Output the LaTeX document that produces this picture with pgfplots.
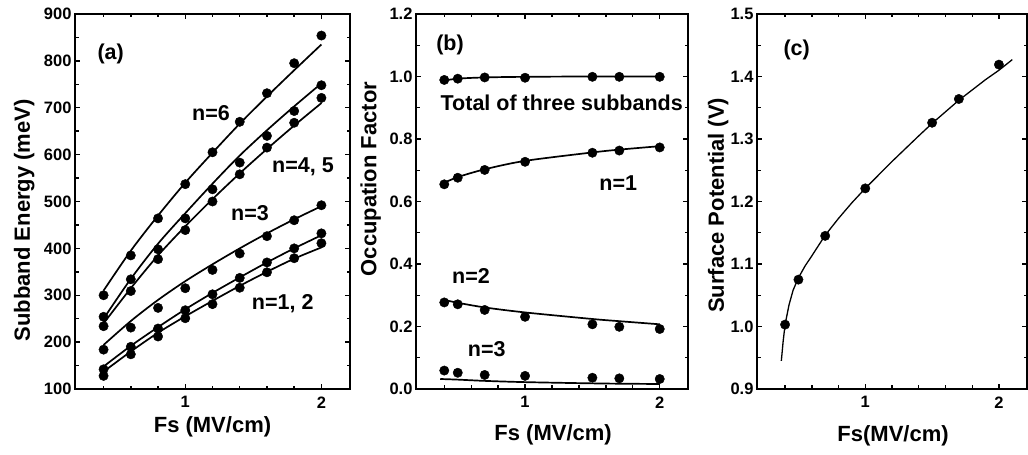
\documentclass[border=0pt]{standalone}
\usepackage{fontspec}
\setmainfont{Liberation Sans}
\usepackage{pgfplots}
\pgfplotsset{compat=1.18}

\pgfplotsset{
  panel/.style={
    scale only axis, anchor=south west,
    width=#1, height=375pt,
    xmin=0.19, xmax=2.21,
    xtick={1,2},
    minor xtick={0.4,0.6,0.8,1.2,1.4,1.6,1.8},
    minor y tick num=1,
    axis line style={line width=2.1pt},
    tick style={black, line width=1.4pt},
    major tick length=5pt, minor tick length=3.5pt,
    /pgf/number format/assume math mode=true,
    tick label style={font=\fontsize{16.5}{19}\selectfont\bfseries},
    xticklabel style={yshift=-4pt},
    label style={font=\fontsize{22}{25}\selectfont\bfseries},
    clip=false,
  },
  dots/.style={only marks, mark=*, mark size=4.7pt, black},
  fit/.style={no marks, smooth, black, line width=1.7pt},
}
\newcommand{\annot}{\fontsize{21.5}{24}\selectfont\bfseries}

\begin{document}
\begin{tikzpicture}
\path[use as bounding box] (0pt,0pt) rectangle (1028pt,455pt);

% (a) subband energies
\begin{axis}[panel=275pt, at={(75pt,66pt)},
  ymin=100, ymax=900, ytick={100,200,...,900},
  xlabel={Fs (MV/cm)}, ylabel={Subband Energy (meV)},
  xlabel style={at={(axis description cs:0.5,-0.101)}, anchor=center},
  ylabel style={at={(axis description cs:-0.185,0.45)}, anchor=center}]
  % n=6
  \addplot[fit] coordinates {(0.4,310) (0.6,395) (0.8,470) (1.0,540) (1.2,604) (1.4,666) (1.6,724) (1.8,780) (2.0,835)};
  \addplot[dots] coordinates {(0.4,300) (0.6,385) (0.8,464) (1.0,537) (1.2,605) (1.4,670) (1.6,731) (1.8,795) (2.0,854)};
  % n=5
  \addplot[fit] coordinates {(0.4,250) (0.6,335) (0.8,410) (1.0,475) (1.2,538) (1.4,598) (1.6,652) (1.8,703) (2.0,752)};
  \addplot[dots] coordinates {(0.4,254) (0.6,334) (0.8,398) (1.0,464) (1.2,526) (1.4,583) (1.6,640) (1.8,693) (2.0,748)};
  % n=4
  \addplot[fit] coordinates {(0.4,240) (0.6,315) (0.8,385) (1.0,447) (1.2,505) (1.4,560) (1.6,612) (1.8,662) (2.0,710)};
  \addplot[dots] coordinates {(0.4,234) (0.6,309) (0.8,377) (1.0,439) (1.2,500) (1.4,558) (1.6,615) (1.8,668) (2.0,721)};
  % n=3
  \addplot[fit] coordinates {(0.4,194) (0.6,245) (0.8,290) (1.0,330) (1.2,366) (1.4,400) (1.6,432) (1.8,462) (2.0,490)};
  \addplot[dots] coordinates {(0.4,184) (0.6,231) (0.8,273) (1.0,315) (1.2,354) (1.4,389) (1.6,426) (1.8,460) (2.0,492)};
  % n=2
  \addplot[fit] coordinates {(0.4,148) (0.6,192) (0.8,232) (1.0,270) (1.2,305) (1.4,338) (1.6,370) (1.8,400) (2.0,428)};
  \addplot[dots] coordinates {(0.4,142) (0.6,190) (0.8,229) (1.0,268) (1.2,302) (1.4,337) (1.6,370) (1.8,400) (2.0,432)};
  % n=1
  \addplot[fit] coordinates {(0.4,137) (0.6,180) (0.8,220) (1.0,255) (1.2,288) (1.4,320) (1.6,350) (1.8,378) (2.0,402)};
  \addplot[dots] coordinates {(0.4,128) (0.6,174) (0.8,212) (1.0,251) (1.2,281) (1.4,316) (1.6,349) (1.8,379) (2.0,411)};
\end{axis}

% (b) occupation factors
\begin{axis}[panel=272pt, at={(416pt,66pt)},
  ymin=0, ymax=1.2, ytick={0,0.2,...,1.2},
  yticklabel style={/pgf/number format/.cd, fixed, fixed zerofill, precision=1},
  xlabel={Fs (MV/cm)}, ylabel={Occupation Factor},
  xlabel style={at={(axis description cs:0.504,-0.123)}, anchor=center},
  ylabel style={at={(axis description cs:-0.167,0.56)}, anchor=center}]
  % total
  \addplot[fit] coordinates {(0.37,0.985) (0.5,0.993) (0.7,0.997) (1.0,0.999) (1.5,1.0) (2.0,1.0)};
  \addplot[dots] coordinates {(0.4,0.989) (0.5,0.993) (0.7,0.997) (1.0,0.996) (1.5,0.999) (1.7,0.999) (2.0,0.999)};
  % n=1
  \addplot[fit] coordinates {(0.4,0.660) (0.5,0.678) (0.7,0.703) (1.0,0.730) (1.5,0.757) (1.7,0.766) (2.0,0.777)};
  \addplot[dots] coordinates {(0.4,0.655) (0.5,0.676) (0.7,0.701) (1.0,0.727) (1.5,0.756) (1.7,0.763) (2.0,0.773)};
  % n=2
  \addplot[fit] coordinates {(0.4,0.285) (0.5,0.276) (0.7,0.261) (1.0,0.245) (1.5,0.224) (1.7,0.217) (2.0,0.207)};
  \addplot[dots] coordinates {(0.4,0.277) (0.5,0.271) (0.7,0.253) (1.0,0.231) (1.5,0.207) (1.7,0.199) (2.0,0.192)};
  % n=3
  \addplot[fit] coordinates {(0.37,0.032) (0.5,0.030) (0.7,0.026) (1.0,0.022) (1.5,0.018) (1.7,0.017) (2.0,0.016)};
  \addplot[dots] coordinates {(0.4,0.059) (0.5,0.052) (0.7,0.045) (1.0,0.042) (1.5,0.036) (1.7,0.034) (2.0,0.032)};
\end{axis}

% (c) surface potential
\begin{axis}[panel=270pt, at={(757pt,66pt)},
  ymin=0.9, ymax=1.5, ytick={0.9,1.0,...,1.5},
  yticklabel style={/pgf/number format/.cd, fixed, fixed zerofill, precision=1},
  xlabel={Fs(MV/cm)}, ylabel={Surface Potential (V)},
  xlabel style={at={(axis description cs:0.504,-0.125)}, anchor=center},
  ylabel style={at={(axis description cs:-0.144,0.49)}, anchor=center}]
  \addplot[no marks, black, line width=1.3pt] coordinates {(0.372,0.945) (0.385,0.975) (0.40,1.003) (0.43,1.035) (0.46,1.058) (0.50,1.078) (0.55,1.097) (0.60,1.113) (0.70,1.146) (0.80,1.173) (0.90,1.198) (1.00,1.221) (1.20,1.264) (1.40,1.305) (1.50,1.325) (1.70,1.362) (1.90,1.395) (2.00,1.410) (2.10,1.427)};
  \addplot[dots] coordinates {(0.4,1.003) (0.5,1.075) (0.7,1.145) (1.0,1.221) (1.5,1.326) (1.7,1.364) (2.0,1.419)};
\end{axis}

% panel annotations
\node[font=\annot] at (110.7pt,401pt) {(a)};
\node[font=\annot] at (211pt,341.7pt) {n=6};
\node[font=\annot] at (303pt,288.3pt) {n=4, 5};
\node[font=\annot] at (250pt,242pt) {n=3};
\node[font=\annot] at (282.7pt,151pt) {n=1, 2};
\node[font=\annot] at (450pt,410pt) {(b)};
\node[font=\annot] at (561.7pt,352.3pt) {Total of three subbands};
\node[font=\annot] at (618.3pt,272.3pt) {n=1};
\node[font=\annot] at (471pt,179pt) {n=2};
\node[font=\annot] at (486.7pt,105.7pt) {n=3};
\node[font=\annot] at (796.7pt,405pt) {(c)};
\end{tikzpicture}
\end{document}
